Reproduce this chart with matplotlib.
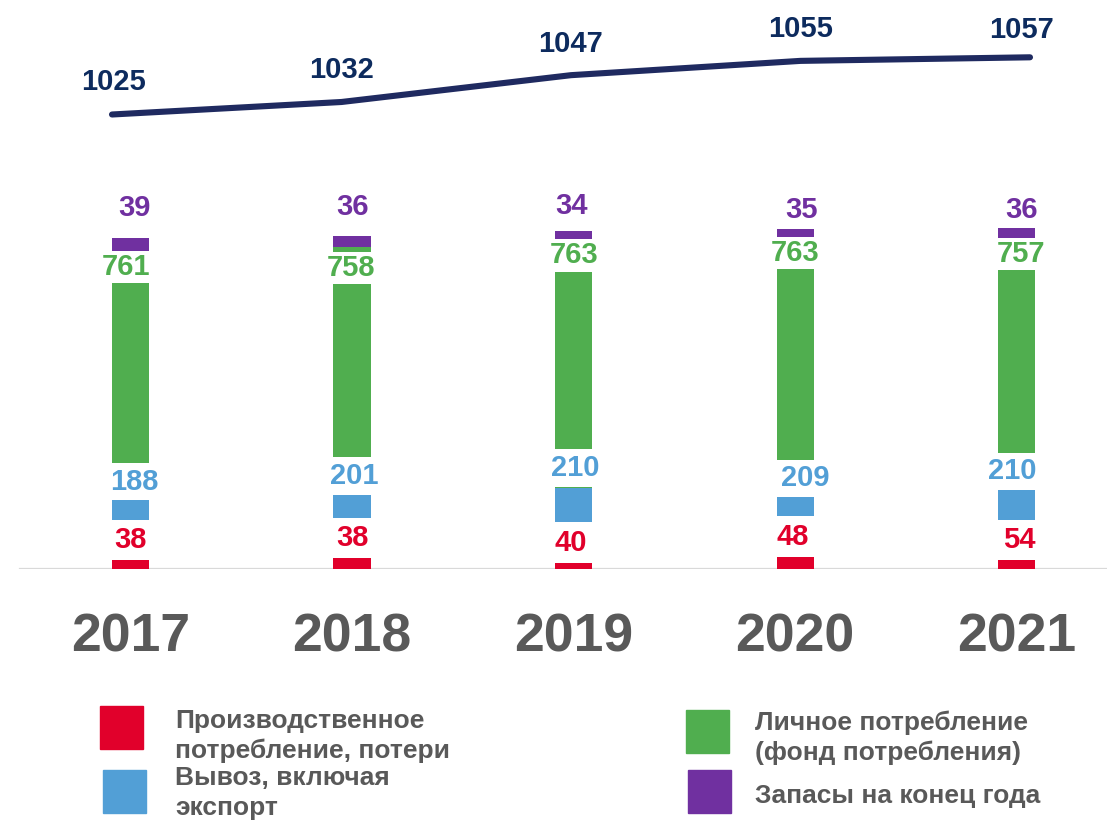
import matplotlib
matplotlib.use("Agg")
import matplotlib.pyplot as plt
from matplotlib.patches import Rectangle

plt.rcParams['font.family'] = ['Liberation Sans', 'DejaVu Sans']

# Данные
years = ["2017", "2018", "2019", "2020", "2021"]
production_use = [38, 38, 40, 48, 54]      # Производственное потребление, потери
export = [188, 201, 210, 209, 210]         # Вывоз, включая экспорт
personal_use = [761, 758, 763, 763, 757]   # Личное потребление
stocks = [39, 36, 34, 35, 36]              # Запасы на конец года
resources = [1025, 1032, 1047, 1055, 1057] # линия сверху

series_names = [
    "Производственное\nпотребление, потери",
    "Вывоз, включая\nэкспорт",
    "Личное потребление\n(фонд потребления)",
    "Запасы на конец года",
]
colors = ["#E1002B", "#529FD6", "#50AE4F", "#7030A0"]
navy_line = "#1F2A60"
navy_text = "#0D2B5E"
gray = "#595959"

# размеры картинки в пикселях
W, H = 1107, 823
PT = 72 / 100  # px -> pt

def fx(px):
    return px / W

def fy(py):
    return 1 - py / H

# сдвиги подписей (px): dx вправо, dy вверх от верха сегмента
label_dx = [
    [0, 0, -3, -2, 3],
    [4, 2, 2, 10, -4],
    [-5, -1, 0, 0, 4],
    [4, 0, -2, 6, 5],
]
label_dy = [
    [16.5, 18, 13, 16.5, 11],
    [14, 15.5, 20, 7.5, 12],
    [-16.5, -20.5, -13, -13, -14],
    [30.5, 29, 25.5, 19, 18],
]
label_pad = [0.21, 0.16, 0.075, 0.05]

fig = plt.figure(figsize=(W / 100, H / 100), dpi=100)

# столбцы
base_py = 568.5
bar_step = 221.55
bar_x0 = 130.5
px_per_unit = 0.322
ax = fig.add_axes([0, fy(base_py), 1, base_py / H])
ax.set_xlim(-bar_x0 / bar_step, (W - bar_x0) / bar_step)
ax.set_ylim(0, base_py / px_per_unit)
for s in ax.spines.values():
    s.set_visible(False)
ax.set_yticks([])
ax.patch.set_visible(False)

x = list(range(len(years)))
ax.axhline(0, xmin=20 / W, xmax=1, color="#D9D9D9", lw=1.6, zorder=1)

all_series = [production_use, export, personal_use, stocks]
bottoms = [0] * len(years)
for k, vals in enumerate(all_series):
    ax.bar(x, vals, width=37.3 / bar_step, bottom=bottoms, color=colors[k], zorder=2)
    for i, v in enumerate(vals):
        top = bottoms[i] + v
        ax.annotate(str(v), xy=(i, top),
                    xytext=(label_dx[k][i] * PT, label_dy[k][i] * PT),
                    textcoords="offset points", ha="center", va="center",
                    fontsize=21, fontweight="bold", color=colors[k], zorder=4,
                    bbox=dict(boxstyle="square,pad=%s" % label_pad[k], fc="white", ec="none"))
    bottoms = [b + v for b, v in zip(bottoms, vals)]

ax.set_xticks(x, years)
ax.tick_params(axis="x", length=0, pad=(652 - base_py) * PT, labelsize=38.5, labelcolor=gray)
for t in ax.get_xticklabels():
    t.set_va("baseline")
    t.set_fontweight("bold")

# линия
line_x0 = 112
line_step = 229.5
line_y0 = 114.5       # px сверху для значения 1025
line_scale = 1.7875   # px на единицу
ax2 = fig.add_axes([0, 0, 1, 1])
ax2.set_xlim(-line_x0 / line_step, (W - line_x0) / line_step)
ax2.set_ylim(1025 - (H - line_y0) / line_scale, 1025 + line_y0 / line_scale)
ax2.axis("off")
ax2.patch.set_visible(False)
ax2.plot(x, resources, color=navy_line, lw=4.4, solid_capstyle="round", solid_joinstyle="round")
line_dx = [2, 0, 0, 0, -8]
line_dy = [24.5, 23.7, 23.5, 24.2, 19.6]
for i, v in enumerate(resources):
    ax2.annotate(str(v), xy=(i, v), xytext=(line_dx[i] * PT, line_dy[i] * PT),
                 textcoords="offset points", ha="center", va="baseline",
                 fontsize=21, fontweight="bold", color=navy_text)

# легенда
legend_boxes = [(100, 706), (103, 770), (686, 710), (688, 770)]
legend_text = [(175, 728.3), (175, 785), (755, 730), (755, 803.3)]
for k in range(4):
    bx, by = legend_boxes[k]
    fig.add_artist(Rectangle((fx(bx), fy(by + 43)), 43 / W, 43 / H,
                             transform=fig.transFigure, color=colors[k]))
    tx, ty = legend_text[k]
    for j, line in enumerate(series_names[k].split("\n")):
        fig.text(fx(tx), fy(ty + 30 * j), line, fontsize=19, fontweight="bold",
                 color=gray, va="baseline", ha="left")

fig.savefig("out.png", dpi=100)
